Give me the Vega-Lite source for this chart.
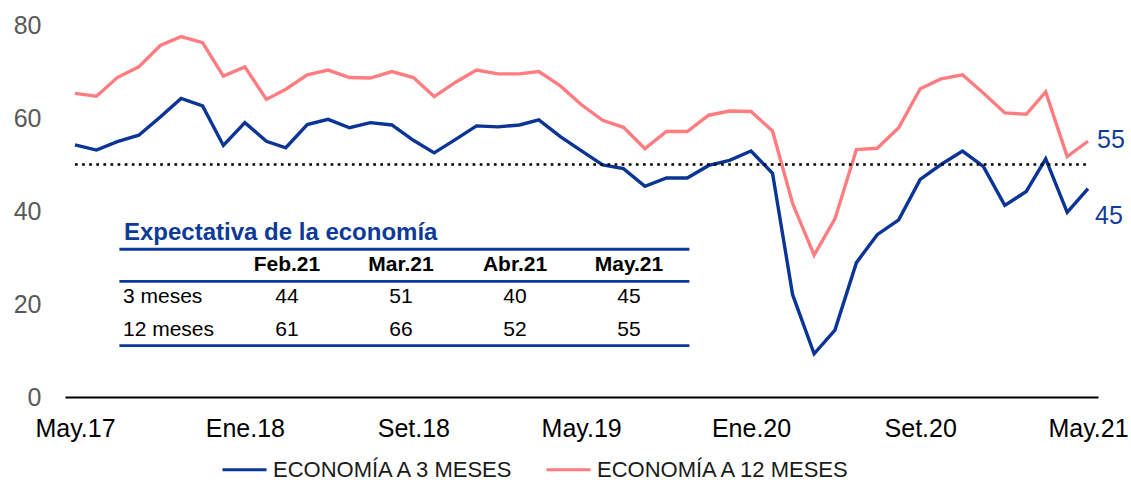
{
  "$schema": "https://vega.github.io/schema/vega-lite/v6.json",
  "width": 1033,
  "height": 372,
  "autosize": {"type": "none"},
  "padding": {"left": 65, "top": 25, "right": 33, "bottom": 86},
  "background": "white",
  "config": {"view": {"stroke": null}, "font": "Liberation Sans"},
  "datasets": {
    "serie": [
      {"fecha": "2017-05-01", "ECONOMÍA A 3 MESES": 54.2, "ECONOMÍA A 12 MESES": 65.3},
      {"fecha": "2017-06-01", "ECONOMÍA A 3 MESES": 53.1, "ECONOMÍA A 12 MESES": 64.7},
      {"fecha": "2017-07-01", "ECONOMÍA A 3 MESES": 54.9, "ECONOMÍA A 12 MESES": 68.7},
      {"fecha": "2017-08-01", "ECONOMÍA A 3 MESES": 56.3, "ECONOMÍA A 12 MESES": 71.0},
      {"fecha": "2017-09-01", "ECONOMÍA A 3 MESES": 60.2, "ECONOMÍA A 12 MESES": 75.6},
      {"fecha": "2017-10-01", "ECONOMÍA A 3 MESES": 64.2, "ECONOMÍA A 12 MESES": 77.5},
      {"fecha": "2017-11-01", "ECONOMÍA A 3 MESES": 62.6, "ECONOMÍA A 12 MESES": 76.2},
      {"fecha": "2017-12-01", "ECONOMÍA A 3 MESES": 54.1, "ECONOMÍA A 12 MESES": 69.0},
      {"fecha": "2018-01-01", "ECONOMÍA A 3 MESES": 59.0, "ECONOMÍA A 12 MESES": 71.0},
      {"fecha": "2018-02-01", "ECONOMÍA A 3 MESES": 55.0, "ECONOMÍA A 12 MESES": 64.0},
      {"fecha": "2018-03-01", "ECONOMÍA A 3 MESES": 53.6, "ECONOMÍA A 12 MESES": 66.2},
      {"fecha": "2018-04-01", "ECONOMÍA A 3 MESES": 58.6, "ECONOMÍA A 12 MESES": 69.3},
      {"fecha": "2018-05-01", "ECONOMÍA A 3 MESES": 59.7, "ECONOMÍA A 12 MESES": 70.3},
      {"fecha": "2018-06-01", "ECONOMÍA A 3 MESES": 57.9, "ECONOMÍA A 12 MESES": 68.7},
      {"fecha": "2018-07-01", "ECONOMÍA A 3 MESES": 59.0, "ECONOMÍA A 12 MESES": 68.6},
      {"fecha": "2018-08-01", "ECONOMÍA A 3 MESES": 58.5, "ECONOMÍA A 12 MESES": 70.0},
      {"fecha": "2018-09-01", "ECONOMÍA A 3 MESES": 55.2, "ECONOMÍA A 12 MESES": 68.7},
      {"fecha": "2018-10-01", "ECONOMÍA A 3 MESES": 52.5, "ECONOMÍA A 12 MESES": 64.6},
      {"fecha": "2018-11-01", "ECONOMÍA A 3 MESES": 55.4, "ECONOMÍA A 12 MESES": 67.7},
      {"fecha": "2018-12-01", "ECONOMÍA A 3 MESES": 58.3, "ECONOMÍA A 12 MESES": 70.3},
      {"fecha": "2019-01-01", "ECONOMÍA A 3 MESES": 58.1, "ECONOMÍA A 12 MESES": 69.5},
      {"fecha": "2019-02-01", "ECONOMÍA A 3 MESES": 58.5, "ECONOMÍA A 12 MESES": 69.5},
      {"fecha": "2019-03-01", "ECONOMÍA A 3 MESES": 59.6, "ECONOMÍA A 12 MESES": 70.0},
      {"fecha": "2019-04-01", "ECONOMÍA A 3 MESES": 56.0, "ECONOMÍA A 12 MESES": 66.9},
      {"fecha": "2019-05-01", "ECONOMÍA A 3 MESES": 53.0, "ECONOMÍA A 12 MESES": 62.9},
      {"fecha": "2019-06-01", "ECONOMÍA A 3 MESES": 49.9, "ECONOMÍA A 12 MESES": 59.5},
      {"fecha": "2019-07-01", "ECONOMÍA A 3 MESES": 49.1, "ECONOMÍA A 12 MESES": 58.0},
      {"fecha": "2019-08-01", "ECONOMÍA A 3 MESES": 45.3, "ECONOMÍA A 12 MESES": 53.4},
      {"fecha": "2019-09-01", "ECONOMÍA A 3 MESES": 47.1, "ECONOMÍA A 12 MESES": 57.1},
      {"fecha": "2019-10-01", "ECONOMÍA A 3 MESES": 47.1, "ECONOMÍA A 12 MESES": 57.1},
      {"fecha": "2019-11-01", "ECONOMÍA A 3 MESES": 49.8, "ECONOMÍA A 12 MESES": 60.6},
      {"fecha": "2019-12-01", "ECONOMÍA A 3 MESES": 50.9, "ECONOMÍA A 12 MESES": 61.5},
      {"fecha": "2020-01-01", "ECONOMÍA A 3 MESES": 52.9, "ECONOMÍA A 12 MESES": 61.4},
      {"fecha": "2020-02-01", "ECONOMÍA A 3 MESES": 48.1, "ECONOMÍA A 12 MESES": 57.2},
      {"fecha": "2020-03-01", "ECONOMÍA A 3 MESES": 22.0, "ECONOMÍA A 12 MESES": 41.6},
      {"fecha": "2020-04-01", "ECONOMÍA A 3 MESES": 9.3, "ECONOMÍA A 12 MESES": 30.5},
      {"fecha": "2020-05-01", "ECONOMÍA A 3 MESES": 14.4, "ECONOMÍA A 12 MESES": 38.3},
      {"fecha": "2020-06-01", "ECONOMÍA A 3 MESES": 28.9, "ECONOMÍA A 12 MESES": 53.2},
      {"fecha": "2020-07-01", "ECONOMÍA A 3 MESES": 34.9, "ECONOMÍA A 12 MESES": 53.5},
      {"fecha": "2020-08-01", "ECONOMÍA A 3 MESES": 38.1, "ECONOMÍA A 12 MESES": 57.9},
      {"fecha": "2020-09-01", "ECONOMÍA A 3 MESES": 46.8, "ECONOMÍA A 12 MESES": 66.3},
      {"fecha": "2020-10-01", "ECONOMÍA A 3 MESES": 50.0, "ECONOMÍA A 12 MESES": 68.4},
      {"fecha": "2020-11-01", "ECONOMÍA A 3 MESES": 52.9, "ECONOMÍA A 12 MESES": 69.3},
      {"fecha": "2020-12-01", "ECONOMÍA A 3 MESES": 49.6, "ECONOMÍA A 12 MESES": 65.4},
      {"fecha": "2021-01-01", "ECONOMÍA A 3 MESES": 41.2, "ECONOMÍA A 12 MESES": 61.1},
      {"fecha": "2021-02-01", "ECONOMÍA A 3 MESES": 44.2, "ECONOMÍA A 12 MESES": 60.8},
      {"fecha": "2021-03-01", "ECONOMÍA A 3 MESES": 51.2, "ECONOMÍA A 12 MESES": 65.6},
      {"fecha": "2021-04-01", "ECONOMÍA A 3 MESES": 39.7, "ECONOMÍA A 12 MESES": 51.7},
      {"fecha": "2021-05-01", "ECONOMÍA A 3 MESES": 44.8, "ECONOMÍA A 12 MESES": 55.0}
    ],
    "titulo": [{"titulo": "Expectativa de la economía", "fila": 0, "col": 0}],
    "cabecera": [
      {"mes": "Feb.21", "col": 1, "fila": 1},
      {"mes": "Mar.21", "col": 2, "fila": 1},
      {"mes": "Abr.21", "col": 3, "fila": 1},
      {"mes": "May.21", "col": 4, "fila": 1}
    ],
    "filas": [
      {"horizonte": "3 meses", "fila": 2, "col": 0},
      {"horizonte": "12 meses", "fila": 3, "col": 0}
    ],
    "valores": [
      {"fila": 2, "col": 1, "valor": 44},
      {"fila": 2, "col": 2, "valor": 51},
      {"fila": 2, "col": 3, "valor": 40},
      {"fila": 2, "col": 4, "valor": 45},
      {"fila": 3, "col": 1, "valor": 61},
      {"fila": 3, "col": 2, "valor": 66},
      {"fila": 3, "col": 3, "valor": 52},
      {"fila": 3, "col": 4, "valor": 55}
    ],
    "separadores": [{"limite": 0.5}, {"limite": 1.5}, {"limite": 3.5}]
  },
  "layer": [
    {
      "layer": [
        {
          "data": {"name": "serie"},
          "transform": [{"fold": ["ECONOMÍA A 3 MESES", "ECONOMÍA A 12 MESES"], "as": ["serie", "valor"]}],
          "mark": {"type": "line", "strokeWidth": 3.4},
          "encoding": {
            "x": {
              "field": "fecha", "type": "temporal",
              "scale": {"type": "utc", "nice": false, "padding": 10},
              "axis": {
                "values": [
                  {"year": 2017, "month": 5, "date": 1, "utc": true},
                  {"year": 2018, "month": 1, "date": 1, "utc": true},
                  {"year": 2018, "month": 9, "date": 1, "utc": true},
                  {"year": 2019, "month": 5, "date": 1, "utc": true},
                  {"year": 2020, "month": 1, "date": 1, "utc": true},
                  {"year": 2020, "month": 9, "date": 1, "utc": true},
                  {"year": 2021, "month": 5, "date": 1, "utc": true}
                ],
                "labelExpr": "['Ene','Feb','Mar','Abr','May','Jun','Jul','Ago','Set','Oct','Nov','Dic'][utcmonth(datum.value)] + '.' + utcFormat(datum.value, '%y')",
                "title": null, "grid": false, "ticks": false, "tickSize": 0,
                "domain": true, "domainColor": "#000000", "domainWidth": 2,
                "labelFontSize": 25, "labelColor": "#000000", "labelPadding": 19,
                "labelFlush": false, "labelOverlap": false, "labelFont": "Liberation Sans"
              }
            },
            "y": {
              "field": "valor", "type": "quantitative",
              "scale": {"domain": [0, 80], "nice": false},
              "axis": {
                "values": [0, 20, 40, 60, 80], "title": null, "grid": false,
                "domain": false, "ticks": false, "tickSize": 0,
                "labelFontSize": 25, "labelColor": "#595959", "labelPadding": 24,
                "labelFont": "Liberation Sans"
              }
            },
            "color": {
              "field": "serie", "type": "nominal",
              "scale": {"domain": ["ECONOMÍA A 3 MESES", "ECONOMÍA A 12 MESES"], "range": ["#0A3597", "#FF7C80"]},
              "legend": {
                "orient": "none", "legendX": 156, "legendY": 421, "direction": "horizontal",
                "title": null, "symbolType": "stroke", "symbolSize": 1936, "symbolStrokeWidth": 3,
                "labelFontSize": 22, "labelFont": "Liberation Sans", "labelColor": "#1a1a1a",
                "labelOffset": 5, "columnPadding": 24, "labelLimit": 400
              }
            }
          }
        },
        {
          "data": {"values": [{"nivel": 50}]},
          "mark": {"type": "rule", "strokeDash": [2.7, 4.4], "strokeWidth": 2.7, "color": "#000000"},
          "encoding": {
            "x": {"datum": {"year": 2017, "month": 5, "date": 1, "utc": true}, "type": "temporal"},
            "x2": {"datum": {"year": 2021, "month": 5, "date": 1, "utc": true}},
            "y": {"field": "nivel", "type": "quantitative"}
          }
        },
        {
          "data": {"values": [{"fecha": "2021-05-01", "valor": 55, "etiqueta": "55"}]},
          "mark": {"type": "text", "align": "left", "baseline": "middle", "dx": 9, "dy": -1, "fontSize": 25, "font": "Liberation Sans", "color": "#123C99"},
          "encoding": {
            "x": {"field": "fecha", "type": "temporal"},
            "y": {"field": "valor", "type": "quantitative"},
            "text": {"field": "etiqueta"}
          }
        },
        {
          "data": {"values": [{"fecha": "2021-05-01", "valor": 45, "etiqueta": "45"}]},
          "mark": {"type": "text", "align": "left", "baseline": "middle", "dx": 7, "dy": 28, "fontSize": 25, "font": "Liberation Sans", "color": "#123C99"},
          "encoding": {
            "x": {"field": "fecha", "type": "temporal"},
            "y": {"field": "valor", "type": "quantitative"},
            "text": {"field": "etiqueta"}
          }
        }
      ]
    },
    {
      "layer": [
        {
          "data": {"name": "separadores"},
          "mark": {"type": "rule", "strokeWidth": 2.8, "color": "#0D3A99"},
          "encoding": {
            "x": {"datum": -0.47, "type": "quantitative", "scale": {"domain": [-0.947, 8.114], "nice": false, "zero": false}, "axis": null},
            "x2": {"datum": 4.53},
            "y": {"field": "limite", "type": "quantitative", "scale": {"domain": [-6.476, 5.095], "nice": false, "zero": false, "reverse": true}, "axis": null}
          }
        },
        {
          "data": {"name": "titulo"},
          "mark": {"type": "text", "align": "left", "baseline": "middle", "dx": -49, "fontSize": 24, "fontWeight": "bold", "font": "Liberation Sans", "color": "#0D3A99"},
          "encoding": {
            "x": {"field": "col", "type": "quantitative"},
            "y": {"field": "fila", "type": "quantitative"},
            "text": {"field": "titulo"}
          }
        },
        {
          "data": {"name": "cabecera"},
          "mark": {"type": "text", "align": "center", "baseline": "middle", "fontSize": 21, "fontWeight": "bold", "font": "Liberation Sans", "color": "#000000"},
          "encoding": {
            "x": {"field": "col", "type": "quantitative"},
            "y": {"field": "fila", "type": "quantitative"},
            "text": {"field": "mes"}
          }
        },
        {
          "data": {"name": "filas"},
          "mark": {"type": "text", "align": "left", "baseline": "middle", "dx": -50, "fontSize": 21, "font": "Liberation Sans", "color": "#000000"},
          "encoding": {
            "x": {"field": "col", "type": "quantitative"},
            "y": {"field": "fila", "type": "quantitative"},
            "text": {"field": "horizonte"}
          }
        },
        {
          "data": {"name": "valores"},
          "mark": {"type": "text", "align": "center", "baseline": "middle", "fontSize": 21, "font": "Liberation Sans", "color": "#000000"},
          "encoding": {
            "x": {"field": "col", "type": "quantitative"},
            "y": {"field": "fila", "type": "quantitative"},
            "text": {"field": "valor", "type": "quantitative"}
          }
        }
      ]
    }
  ],
  "resolve": {"scale": {"x": "independent", "y": "independent"}}
}
